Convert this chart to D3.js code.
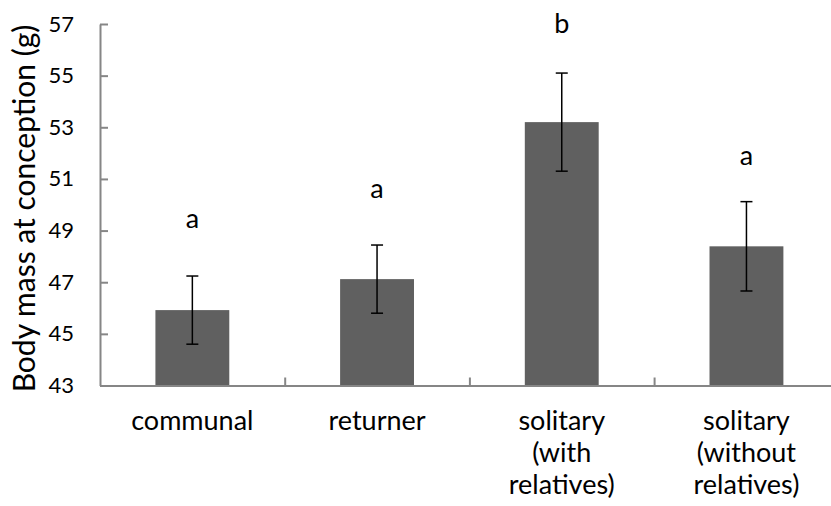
<!DOCTYPE html>
<html>
<head>
<meta charset="utf-8">
<script src="https://cdn.jsdelivr.net/npm/d3@7"></script>
<style>
    body { margin: 0; background: #fff; }
    #chart { width: 831px; height: 506px; }
    text { font-family: Lato, "Open Sans", sans-serif; fill: #000; }
</style>
</head>
<body>
<div id="chart"></div>
<script>

const categories = ["communal", "returner", "solitary (with relatives)", "solitary (without relatives)"];
const categoryLines = [["communal"], ["returner"], ["solitary", "(with", "relatives)"], ["solitary", "(without", "relatives)"]];
const means = [45.92, 47.12, 53.2, 48.39];
const errors = [1.32, 1.32, 1.9, 1.73];
const letters = ["a", "a", "b", "a"];
const letterAt = [49.1, 50.25, 56.65, 51.55];
const yTicks = [43, 45, 47, 49, 51, 53, 55, 57];

const width = 831;
const height = 506;

const svg = d3.select("#chart")
    .append("svg")
    .attr("width", width)
    .attr("height", height);

const x = d3.scaleBand()
    .domain(categories)
    .range([100, 838.8])
    .padding(0);

const y = d3.scaleLinear()
    .domain([43, 57])
    .range([385.5, 24]);

const barW = x.bandwidth() * 0.4;

// bars
svg.selectAll("rect.bar")
    .data(categories)
    .enter()
    .append("rect")
    .attr("class", "bar")
    .attr("x", function (d) { return x(d) + x.bandwidth() / 2 - barW / 2 })
    .attr("y", function (d, i) { return y(means[i]) })
    .attr("width", barW)
    .attr("height", function (d, i) { return y(43) - y(means[i]) })
    .attr("fill", "#606060");

// y axis, ticks point inward
const yAxis = svg.append("g")
    .attr("transform", "translate(100,0)")
    .call(d3.axisLeft(y).tickValues(yTicks).tickSizeInner(-8).tickSizeOuter(0).tickPadding(26));

yAxis.select(".domain").attr("stroke", "#868686").attr("stroke-width", 2);
yAxis.selectAll(".tick line").attr("stroke", "#868686").attr("stroke-width", 2);
yAxis.selectAll(".tick text")
    .style("font-family", "Lato, 'Open Sans', sans-serif")
    .style("font-size", "22px")
    .attr("fill", "#000");

// x axis: tick marks between the categories
const xEdges = d3.scaleLinear().domain([0, categories.length]).range(x.range());
const xAxis = svg.append("g")
    .attr("transform", "translate(0," + y(43) + ")")
    .call(d3.axisBottom(xEdges).tickValues([1, 2, 3]).tickSizeInner(-8).tickSizeOuter(0).tickFormat(""));

xAxis.select(".domain").attr("stroke", "#868686").attr("stroke-width", 2);
xAxis.selectAll(".tick line").attr("stroke", "#868686").attr("stroke-width", 2);

// category labels
svg.selectAll("text.cat")
    .data(categories)
    .enter()
    .append("text")
    .attr("class", "cat")
    .attr("text-anchor", "middle")
    .style("font-size", "27px")
    .each(function (d, i) {
        const t = d3.select(this);
        categoryLines[i].forEach(function (line, j) {
            t.append("tspan")
                .attr("x", x(d) + x.bandwidth() / 2)
                .attr("y", 430 + j * 32)
                .text(line);
        });
    });

// error bars
const err = svg.selectAll("g.err")
    .data(categories)
    .enter()
    .append("g")
    .attr("class", "err")
    .attr("stroke", "#000")
    .attr("stroke-width", 1.5);

err.append("line")
    .attr("x1", function (d) { return x(d) + x.bandwidth() / 2 })
    .attr("x2", function (d) { return x(d) + x.bandwidth() / 2 })
    .attr("y1", function (d, i) { return y(means[i] + errors[i]) })
    .attr("y2", function (d, i) { return y(means[i] - errors[i]) });

[1, -1].forEach(function (s) {
    err.append("line")
        .attr("x1", function (d) { return x(d) + x.bandwidth() / 2 - 6 })
        .attr("x2", function (d) { return x(d) + x.bandwidth() / 2 + 6 })
        .attr("y1", function (d, i) { return y(means[i] + s * errors[i]) })
        .attr("y2", function (d, i) { return y(means[i] + s * errors[i]) });
});

// significance letters
svg.selectAll("text.letter")
    .data(categories)
    .enter()
    .append("text")
    .attr("class", "letter")
    .attr("text-anchor", "middle")
    .attr("x", function (d) { return x(d) + x.bandwidth() / 2 })
    .attr("y", function (d, i) { return y(letterAt[i]) })
    .style("font-size", "27px")
    .text(function (d, i) { return letters[i] });

// y axis title
svg.append("text")
    .attr("transform", "translate(35," + (20 + 397) / 2 + ") rotate(-90)")
    .attr("text-anchor", "middle")
    .style("font-size", "30px")
    .text("Body mass at conception (g)");

</script>
</body>
</html>
